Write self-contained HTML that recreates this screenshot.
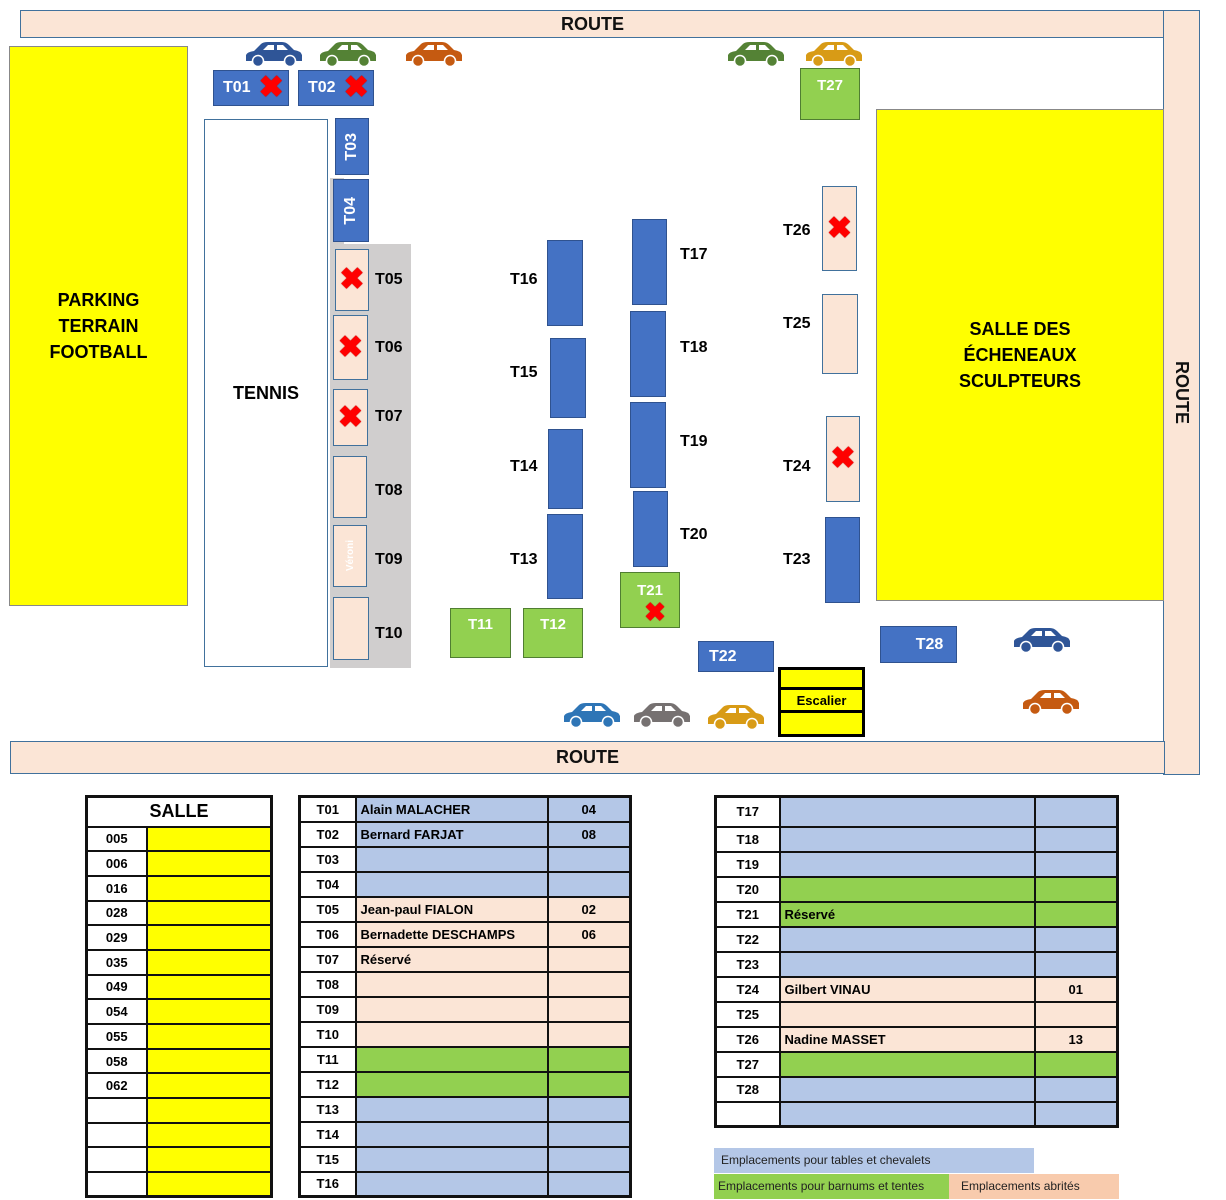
<!DOCTYPE html>
<html><head><meta charset="utf-8"><style>
*{margin:0;padding:0;box-sizing:border-box}
body{width:1226px;height:1200px;background:#fff;position:relative;overflow:hidden;font-family:"Liberation Sans",sans-serif}
.a{position:absolute}
.road{background:#fbe5d6;border:1.5px solid #41719c;display:flex;align-items:center;justify-content:center;font-weight:bold;font-size:18px;color:#111}
.b{background:#4472c4;border:1px solid #2f528f;color:#fff;font-weight:bold;font-size:16px;display:flex;align-items:center;justify-content:center}
.p{background:#fbe5d6;border:1px solid #41719c}
.g{background:#92d050;border:1px solid #507e32;color:#fff;font-weight:bold;font-size:15px;display:flex;justify-content:center}
.l{font-weight:bold;font-size:16px;color:#000}
.x{color:#f00;font-size:30px;font-weight:bold;line-height:1;text-shadow:0 0 1px #900}
.v{writing-mode:vertical-rl;transform:rotate(180deg)}
table{position:absolute;border-collapse:collapse;border:3px solid #111;table-layout:fixed}
tr{height:25px}
#s tr{height:24.7px}
td{border:2px solid #111;font-family:"Liberation Sans",sans-serif;font-weight:bold;font-size:13px;padding:0 4px;white-space:nowrap;overflow:hidden}
td.c{text-align:center;background:#fff}
.B{background:#b4c7e7}.P{background:#fbe5d6}.G{background:#92d050}.Y{background:#ff0}
</style></head><body>
<svg width="0" height="0" style="position:absolute"><defs>
<symbol id="car" viewBox="0 0 60 26"><path d="M2 20 L2 14 Q3 11 10 10 L17 3 Q19 1 24 1 L38 1 Q42 1 45 4 L50 9 Q57 10 58 14 L58 20 Z"/><path d="M19 9 L24 4 L30 4 L30 9Z M33 4 L39 4 L44 9 L33 9Z" fill="#fff"/><circle cx="14" cy="20" r="5.5" stroke="#fff" stroke-width="1.5"/><circle cx="46" cy="20" r="5.5" stroke="#fff" stroke-width="1.5"/></symbol></defs></svg>

<div class="a road" style="left:20px;top:10px;width:1145px;height:28px">ROUTE</div>
<div class="a road" style="left:1163px;top:10px;width:37px;height:765px"><span style="writing-mode:vertical-rl">ROUTE</span></div>
<div class="a road" style="left:10px;top:741px;width:1155px;height:33px">ROUTE</div>

<div class="a" style="left:9px;top:46px;width:179px;height:560px;background:#ff0;border:1px solid #888;display:flex;align-items:center;justify-content:center;text-align:center;font-weight:bold;font-size:18px;line-height:26px">PARKING<br>TERRAIN<br>FOOTBALL</div>
<div class="a" style="left:876px;top:109px;width:288px;height:492px;background:#ff0;border:1px solid #888;display:flex;align-items:center;justify-content:center;text-align:center;font-weight:bold;font-size:18px;line-height:26px">SALLE DES<br>ÉCHENEAUX<br>SCULPTEURS</div>
<div class="a" style="left:204px;top:119px;width:124px;height:548px;border:1.5px solid #41719c;display:flex;align-items:center;justify-content:center;font-weight:bold;font-size:18px">TENNIS</div>

<div class="a" style="left:330px;top:178px;width:14px;height:70px;background:#d0cece"></div>
<div class="a" style="left:330px;top:244px;width:81px;height:424px;background:#d0cece"></div>

<div class="a b" style="left:213px;top:70px;width:76px;height:36px;justify-content:flex-start;padding-left:9px">T01 <span class="x" style="margin-left:8px">✖</span></div>
<div class="a b" style="left:298px;top:70px;width:76px;height:36px;justify-content:flex-start;padding-left:9px">T02 <span class="x" style="margin-left:8px">✖</span></div>
<div class="a b" style="left:335px;top:118px;width:34px;height:57px"><span class="v">T03</span></div>
<div class="a b" style="left:333px;top:179px;width:36px;height:63px"><span class="v">T04</span></div>

<div class="a p" style="left:335px;top:249px;width:34px;height:62px;display:flex;align-items:center;justify-content:center"><span class="x">✖</span></div>
<div class="a p" style="left:333px;top:315px;width:35px;height:65px;display:flex;align-items:center;justify-content:center"><span class="x">✖</span></div>
<div class="a p" style="left:333px;top:389px;width:35px;height:57px;display:flex;align-items:center;justify-content:center"><span class="x">✖</span></div>
<div class="a p" style="left:333px;top:456px;width:34px;height:62px"></div>
<div class="a p" style="left:333px;top:525px;width:34px;height:62px;display:flex;align-items:center;justify-content:center;color:#fff;font-size:10px;font-weight:bold"><span class="v">Véroni</span></div>
<div class="a p" style="left:333px;top:597px;width:36px;height:63px"></div>
<div class="a l" style="left:375px;top:271px">T05</div>
<div class="a l" style="left:375px;top:339px">T06</div>
<div class="a l" style="left:375px;top:408px">T07</div>
<div class="a l" style="left:375px;top:482px">T08</div>
<div class="a l" style="left:375px;top:551px">T09</div>
<div class="a l" style="left:375px;top:625px">T10</div>

<div class="a b" style="left:547px;top:240px;width:36px;height:86px"></div>
<div class="a b" style="left:550px;top:338px;width:36px;height:80px"></div>
<div class="a b" style="left:548px;top:429px;width:35px;height:80px"></div>
<div class="a b" style="left:547px;top:514px;width:36px;height:85px"></div>
<div class="a l" style="left:510px;top:271px">T16</div>
<div class="a l" style="left:510px;top:364px">T15</div>
<div class="a l" style="left:510px;top:458px">T14</div>
<div class="a l" style="left:510px;top:551px">T13</div>

<div class="a b" style="left:632px;top:219px;width:35px;height:86px"></div>
<div class="a b" style="left:630px;top:311px;width:36px;height:86px"></div>
<div class="a b" style="left:630px;top:402px;width:36px;height:86px"></div>
<div class="a b" style="left:633px;top:491px;width:35px;height:76px"></div>
<div class="a l" style="left:680px;top:246px">T17</div>
<div class="a l" style="left:680px;top:339px">T18</div>
<div class="a l" style="left:680px;top:433px">T19</div>
<div class="a l" style="left:680px;top:526px">T20</div>

<div class="a g" style="left:450px;top:608px;width:61px;height:50px;padding-top:7px">T11</div>
<div class="a g" style="left:523px;top:608px;width:60px;height:50px;padding-top:7px">T12</div>
<div class="a g" style="left:620px;top:572px;width:60px;height:56px;flex-direction:column;align-items:center;padding-top:6px">T21<span class="x" style="font-size:26px;margin-left:10px">✖</span></div>
<div class="a b" style="left:698px;top:641px;width:76px;height:31px;justify-content:flex-start;padding-left:10px">T22</div>
<div class="a" style="left:778px;top:667px;width:87px;height:70px;border:3px solid #000;background:#ff0"><div style="height:20px;border-bottom:3px solid #000"></div><div style="height:23px;border-bottom:3px solid #000;font-weight:bold;font-size:13px;text-align:center;line-height:22px">Escalier</div></div>

<div class="a g" style="left:800px;top:68px;width:60px;height:52px;padding-top:8px">T27</div>
<div class="a p" style="left:822px;top:186px;width:35px;height:85px;display:flex;align-items:center;justify-content:center"><span class="x">✖</span></div>
<div class="a p" style="left:822px;top:294px;width:36px;height:80px"></div>
<div class="a p" style="left:826px;top:416px;width:34px;height:86px;display:flex;align-items:center;justify-content:center"><span class="x">✖</span></div>
<div class="a b" style="left:825px;top:517px;width:35px;height:86px"></div>
<div class="a l" style="left:783px;top:222px">T26</div>
<div class="a l" style="left:783px;top:315px">T25</div>
<div class="a l" style="left:783px;top:458px">T24</div>
<div class="a l" style="left:783px;top:551px">T23</div>
<div class="a b" style="left:880px;top:626px;width:77px;height:37px;padding-left:22px">T28</div>

<svg class="a" style="left:244px;top:41px" width="60" height="26" fill="#2f5597"><use href="#car"/></svg>
<svg class="a" style="left:318px;top:41px" width="60" height="26" fill="#548235"><use href="#car"/></svg>
<svg class="a" style="left:404px;top:41px" width="60" height="26" fill="#c55a11"><use href="#car"/></svg>
<svg class="a" style="left:726px;top:41px" width="60" height="26" fill="#548235"><use href="#car"/></svg>
<svg class="a" style="left:804px;top:41px" width="60" height="26" fill="#d89b16"><use href="#car"/></svg>
<svg class="a" style="left:562px;top:702px" width="60" height="26" fill="#2e75b6"><use href="#car"/></svg>
<svg class="a" style="left:632px;top:702px" width="60" height="26" fill="#767171"><use href="#car"/></svg>
<svg class="a" style="left:706px;top:704px" width="60" height="26" fill="#d89b16"><use href="#car"/></svg>
<svg class="a" style="left:1012px;top:627px" width="60" height="26" fill="#2f5597"><use href="#car"/></svg>
<svg class="a" style="left:1021px;top:689px" width="60" height="26" fill="#c55a11"><use href="#car"/></svg>

<table id="s" style="left:85px;top:795px;width:188px">
<colgroup><col style="width:60px"><col></colgroup>
<tr style="height:30px"><td colspan="2" style="text-align:center;font-size:18px;background:#fff">SALLE</td></tr>
<tr><td class="c">005</td><td class="Y"></td></tr>
<tr><td class="c">006</td><td class="Y"></td></tr>
<tr><td class="c">016</td><td class="Y"></td></tr>
<tr><td class="c">028</td><td class="Y"></td></tr>
<tr><td class="c">029</td><td class="Y"></td></tr>
<tr><td class="c">035</td><td class="Y"></td></tr>
<tr><td class="c">049</td><td class="Y"></td></tr>
<tr><td class="c">054</td><td class="Y"></td></tr>
<tr><td class="c">055</td><td class="Y"></td></tr>
<tr><td class="c">058</td><td class="Y"></td></tr>
<tr><td class="c">062</td><td class="Y"></td></tr>
<tr><td class="c">&nbsp;</td><td class="Y"></td></tr>
<tr><td class="c">&nbsp;</td><td class="Y"></td></tr>
<tr><td class="c">&nbsp;</td><td class="Y"></td></tr>
<tr><td class="c">&nbsp;</td><td class="Y"></td></tr>
</table>

<table style="left:298px;top:795px;width:334px">
<tr><td class="c" style="width:56px">T01</td><td class="B" style="width:192px">Alain MALACHER</td><td class="B" style="text-align:center">04</td></tr>
<tr><td class="c">T02</td><td class="B">Bernard FARJAT</td><td class="B" style="text-align:center">08</td></tr>
<tr><td class="c">T03</td><td class="B"></td><td class="B"></td></tr>
<tr><td class="c">T04</td><td class="B"></td><td class="B"></td></tr>
<tr><td class="c">T05</td><td class="P">Jean-paul FIALON</td><td class="P" style="text-align:center">02</td></tr>
<tr><td class="c">T06</td><td class="P">Bernadette DESCHAMPS</td><td class="P" style="text-align:center">06</td></tr>
<tr><td class="c">T07</td><td class="P">Réservé</td><td class="P"></td></tr>
<tr><td class="c">T08</td><td class="P"></td><td class="P"></td></tr>
<tr><td class="c">T09</td><td class="P"></td><td class="P"></td></tr>
<tr><td class="c">T10</td><td class="P"></td><td class="P"></td></tr>
<tr><td class="c">T11</td><td class="G"></td><td class="G"></td></tr>
<tr><td class="c">T12</td><td class="G"></td><td class="G"></td></tr>
<tr><td class="c">T13</td><td class="B"></td><td class="B"></td></tr>
<tr><td class="c">T14</td><td class="B"></td><td class="B"></td></tr>
<tr><td class="c">T15</td><td class="B"></td><td class="B"></td></tr>
<tr><td class="c">T16</td><td class="B"></td><td class="B"></td></tr>
</table>

<table style="left:714px;top:795px;width:405px">
<tr style="height:30px"><td class="c" style="width:64px">T17</td><td class="B" style="width:255px"></td><td class="B"></td></tr>
<tr><td class="c">T18</td><td class="B"></td><td class="B"></td></tr>
<tr><td class="c">T19</td><td class="B"></td><td class="B"></td></tr>
<tr><td class="c">T20</td><td class="G"></td><td class="G"></td></tr>
<tr><td class="c">T21</td><td class="G">Réservé</td><td class="G"></td></tr>
<tr><td class="c">T22</td><td class="B"></td><td class="B"></td></tr>
<tr><td class="c">T23</td><td class="B"></td><td class="B"></td></tr>
<tr><td class="c">T24</td><td class="P">Gilbert VINAU</td><td class="P" style="text-align:center">01</td></tr>
<tr><td class="c">T25</td><td class="P"></td><td class="P"></td></tr>
<tr><td class="c">T26</td><td class="P">Nadine MASSET</td><td class="P" style="text-align:center">13</td></tr>
<tr><td class="c">T27</td><td class="G"></td><td class="G"></td></tr>
<tr><td class="c">T28</td><td class="B"></td><td class="B"></td></tr>
<tr><td class="c">&nbsp;</td><td class="B"></td><td class="B"></td></tr>
</table>

<div class="a" style="left:714px;top:1148px;width:320px;height:25px;background:#b4c7e7;font-size:12px;line-height:25px;padding-left:7px;color:#222">Emplacements pour tables et chevalets</div>
<div class="a" style="left:714px;top:1174px;width:235px;height:25px;background:#92d050;font-size:12px;line-height:25px;padding-left:4px;color:#222">Emplacements pour barnums et tentes</div>
<div class="a" style="left:949px;top:1174px;width:170px;height:25px;background:#f8cbad;font-size:12px;line-height:25px;padding-left:12px;color:#222">Emplacements abrités</div>
</body></html>
